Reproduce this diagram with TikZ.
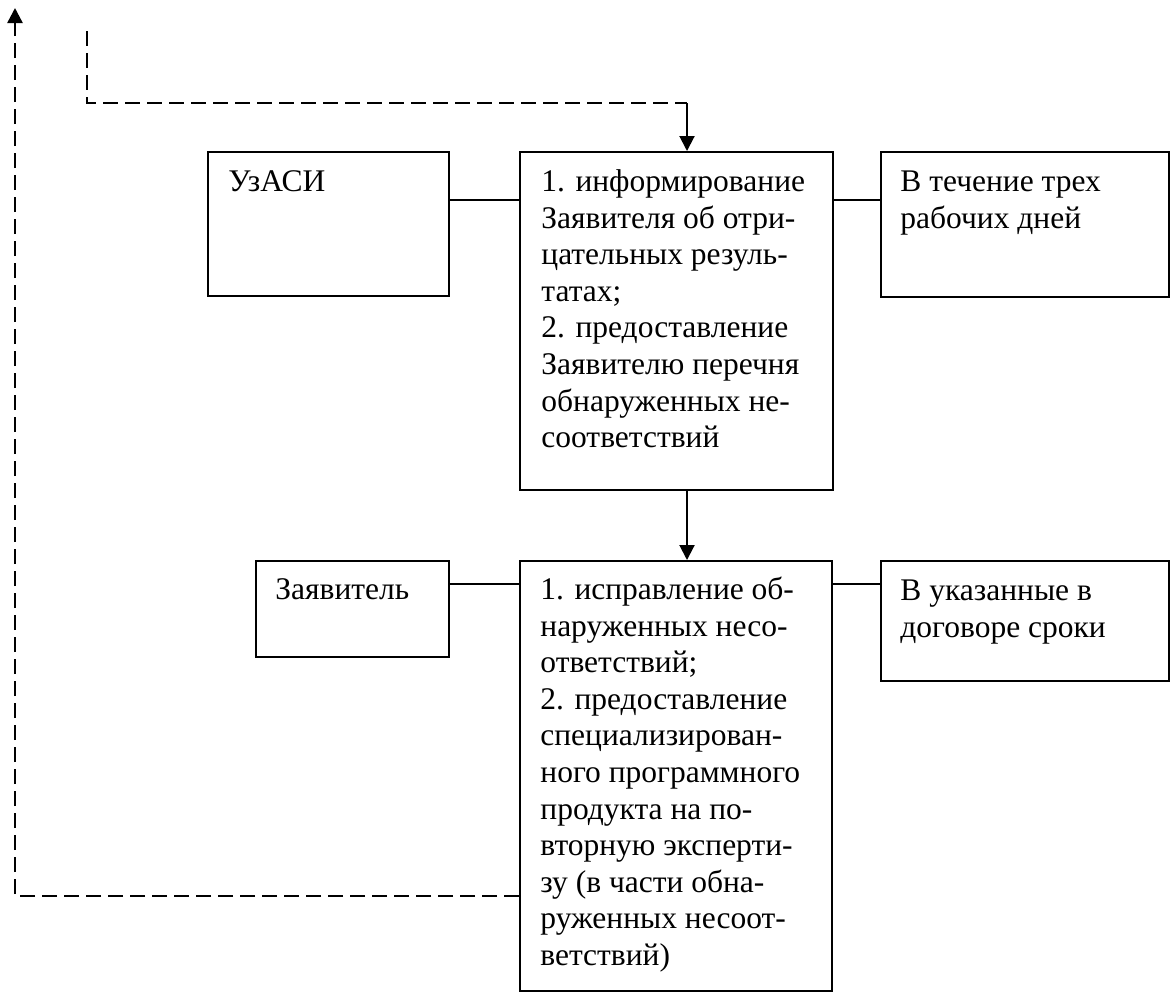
\documentclass[tikz,border=0pt]{standalone}
\usepackage{fontspec}
\setmainfont{Liberation Serif}
\usetikzlibrary{arrows.meta,calc}
\newcommand\mytopstrut{\rule{0pt}{15pt}}
\begin{document}
\begin{tikzpicture}[x=0.5pt,y=-0.5pt,
  box/.style={draw,line width=1pt,inner sep=0pt,anchor=north west},
  txt/.style={anchor=north west,inner sep=0pt,align=left,font=\fontsize{15.75pt}{18.3pt}\selectfont},
  link/.style={line width=1pt},
  flow/.style={line width=1pt,-{Triangle[length=7.5pt,width=7.5pt]}},
  ret/.style={line width=1.2pt,dash pattern=on 7.5pt off 3.5pt}]
\useasboundingbox (0,0) rectangle (1170,992);
% boxes
\node[box,minimum width=120.5pt,minimum height=72pt] (u) at (207,151) {};
\node[box,minimum width=156.5pt,minimum height=169pt] (b1) at (519,151) {};
\node[box,minimum width=144pt,minimum height=72.5pt] (r1) at (880,151) {};
\node[box,minimum width=96.5pt,minimum height=48pt] (z) at (255,560) {};
\node[box,minimum width=156pt,minimum height=215pt] (b2) at (519,560) {};
\node[box,minimum width=144pt,minimum height=60pt] (r2) at (880,560) {};
% texts
\node[txt] (tu) at ($(u.north west)+(21,10)$) {\mytopstrut УзАСИ};
\node[txt] (tb1) at ($(b1.north west)+(22,10)$) {\mytopstrut 1. информирование\\Заявителя об отри-\\цательных резуль-\\татах;\\2. предоставление\\Заявителю перечня\\обнаруженных не-\\соответствий};
\node[txt] (tr1) at ($(r1.north west)+(20,10)$) {\mytopstrut В течение трех\\рабочих дней};
\node[txt] (tz) at ($(z.north west)+(20,9)$) {\mytopstrut Заявитель};
\node[txt] (tb2) at ($(b2.north west)+(21,9)$) {\mytopstrut 1. исправление об-\\наруженных несо-\\ответствий;\\2. предоставление\\специализирован-\\ного программного\\продукта на по-\\вторную эксперти-\\зу (в части обна-\\руженных несоот-\\ветствий)};
\node[txt] (tr2) at ($(r2.north west)+(20,10)$) {\mytopstrut В указанные в\\договоре сроки};
% links
\draw[link] ($(u.north east)+(0,49)$) -- ($(b1.north west)+(0,49)$);
\draw[link] ($(b1.north east)+(0,49)$) -- ($(r1.north west)+(0,49)$);
\draw[link] ($(z.north east)+(0,24)$) -- ($(b2.north west)+(0,24)$);
\draw[link] ($(b2.north east)+(0,24)$) -- ($(r2.north west)+(0,24)$);
% flow
\coordinate (s) at (87,31);
\coordinate (k) at (687,103);
\draw[ret] (s) |- (k);
\draw[flow] (k) -- (k |- b1.north);
\draw[flow] (b1.south -| k) -- (b2.north -| k);
% return
\coordinate (p) at ($(b2.north west)+(0,336)$);
\coordinate (top) at (15,8);
\draw[ret,-{Triangle[length=7.5pt,width=7.5pt]}] (p) -| (top);
\end{tikzpicture}
\end{document}
